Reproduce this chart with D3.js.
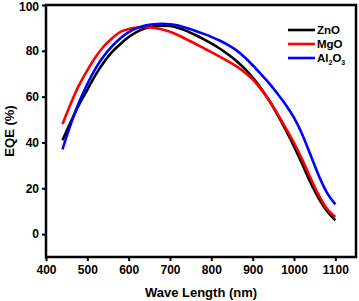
<!DOCTYPE html>
<html lang="en">
<head>
<meta charset="utf-8">
<script src="https://cdn.jsdelivr.net/npm/d3@7"></script>
<style>
  body { margin: 0; background: #fff; }
  svg { font-family: "Liberation Sans", Arial, sans-serif; font-weight: bold; }
</style>
</head>
<body>
<script>
// wavelengths (nm) and EQE (%) for each sample
var wavelength = [440, 460, 480, 500, 520, 540, 560, 580, 600, 620, 640, 660, 680, 700,
                  720, 740, 760, 780, 800, 820, 840, 860, 880, 900, 920, 940, 960, 980,
                  1000, 1020, 1040, 1060, 1080, 1100];
var znO  = [41, 49, 56.5, 63, 69.5, 75, 79.5, 83, 86, 88.3, 89.8, 90.6, 91, 90.8,
            90, 88.7, 87, 85.2, 83.2, 81, 78.5, 75.7, 72.3, 68.3, 63.7, 58.3, 52.2, 45.5,
            38.3, 30.5, 22.5, 15.5, 10, 6];
var mgO  = [48, 57, 65, 71.5, 77.3, 82, 85.5, 88.3, 89.5, 90.2, 90.4, 90.1, 89.4, 88.3,
            86.8, 85, 83.2, 81.3, 79.4, 77.5, 75.5, 73.3, 70.7, 67.5, 63.3, 58.3, 52.5, 46.3,
            39.8, 32.5, 24.5, 17, 11, 7.5];
var al2O3 = [37, 48, 57.5, 65.5, 72.3, 77.7, 82, 85.5, 88.2, 89.9, 91, 91.6, 91.8, 91.6,
             91, 90, 88.8, 87.5, 86.1, 84.5, 82.6, 80.3, 77.3, 73.7, 69.8, 65.8, 61.3, 56.5,
             50.8, 43.5, 34.5, 25.5, 18, 13];
var seriesNames = ["ZnO", "MgO", "Al2O3"];
var xTicks = [400, 500, 600, 700, 800, 900, 1000, 1100];
var yTicks = [0, 20, 40, 60, 80, 100];

var w = 359, h = 301;
var margin = {left: 46, top: 5, right: 3, bottom: 44};
var colors = ["#000000", "#ff0000", "#0000ff"];

var svg = d3.select("body").append("svg")
  .attr("width", w)
  .attr("height", h);

var xScale = d3.scaleLinear()
  .domain([400, 1150])
  .range([margin.left, w - margin.right]);

var yScale = d3.scaleLinear()
  .domain([-10, 100])
  .range([h - margin.bottom, margin.top]);

// axes
var xAxis = svg.append("g")
  .attr("transform", "translate(0," + (h - margin.bottom) + ")")
  .call(d3.axisBottom(xScale).tickValues(xTicks).tickFormat(d3.format("d"))
    .tickSize(4).tickPadding(4));

var yAxis = svg.append("g")
  .attr("transform", "translate(" + margin.left + ",0)")
  .call(d3.axisLeft(yScale).tickValues(yTicks).tickFormat(d3.format("d"))
    .tickSize(4).tickPadding(3));

[xAxis, yAxis].forEach(function(ax) {
  ax.select(".domain").remove();
  ax.selectAll("line").attr("stroke", "#000").attr("stroke-width", 2);
  ax.selectAll("text")
    .attr("fill", "#000")
    .style("font-size", "12px")
    .style("font-weight", "bold")
    .style("font-family", "'Liberation Sans', Arial, sans-serif");
});

// keep the top label inside the picture
yAxis.selectAll(".tick text")
  .filter(function(d) { return d === 100; })
  .attr("dy", "0.45em");

// frame
svg.append("rect")
  .attr("x", margin.left)
  .attr("y", margin.top)
  .attr("width", w - margin.right - margin.left)
  .attr("height", h - margin.bottom - margin.top)
  .attr("fill", "none")
  .attr("stroke", "#000")
  .attr("stroke-width", 2.5);

// curves
var line = d3.line()
  .x(function(d, i) { return xScale(wavelength[i]); })
  .y(function(d) { return yScale(d); })
  .curve(d3.curveMonotoneX);

[znO, mgO, al2O3].forEach(function(s, k) {
  svg.append("path")
    .datum(s)
    .attr("d", line)
    .attr("fill", "none")
    .attr("stroke", colors[k])
    .attr("stroke-width", 2.6);
});

// axis titles
svg.append("text")
  .attr("x", (margin.left + w - margin.right) / 2)
  .attr("y", 297)
  .attr("text-anchor", "middle")
  .style("font-size", "13px")
  .text("Wave Length (nm)");

svg.append("text")
  .attr("transform", "translate(14," + ((margin.top + h - margin.bottom) / 2) + ") rotate(-90)")
  .attr("text-anchor", "middle")
  .style("font-size", "13px")
  .text("EQE (%)");

// legend
var legend = svg.append("g").attr("transform", "translate(288,30)");
seriesNames.forEach(function(name, i) {
  var g = legend.append("g").attr("transform", "translate(0," + (i * 14) + ")");
  g.append("line")
    .attr("x1", 0).attr("x2", 27)
    .attr("stroke", colors[i])
    .attr("stroke-width", 2.6);
  var t = g.append("text")
    .attr("x", 29)
    .attr("y", 4)
    .style("font-size", "11.5px");
  if (name === "Al2O3") {
    t.append("tspan").text("Al");
    t.append("tspan").attr("dy", 3).style("font-size", "7px").text("2");
    t.append("tspan").attr("dy", -3).text("O");
    t.append("tspan").attr("dy", 3).style("font-size", "7px").text("3");
  } else {
    t.text(name);
  }
});
</script>
</body>
</html>
